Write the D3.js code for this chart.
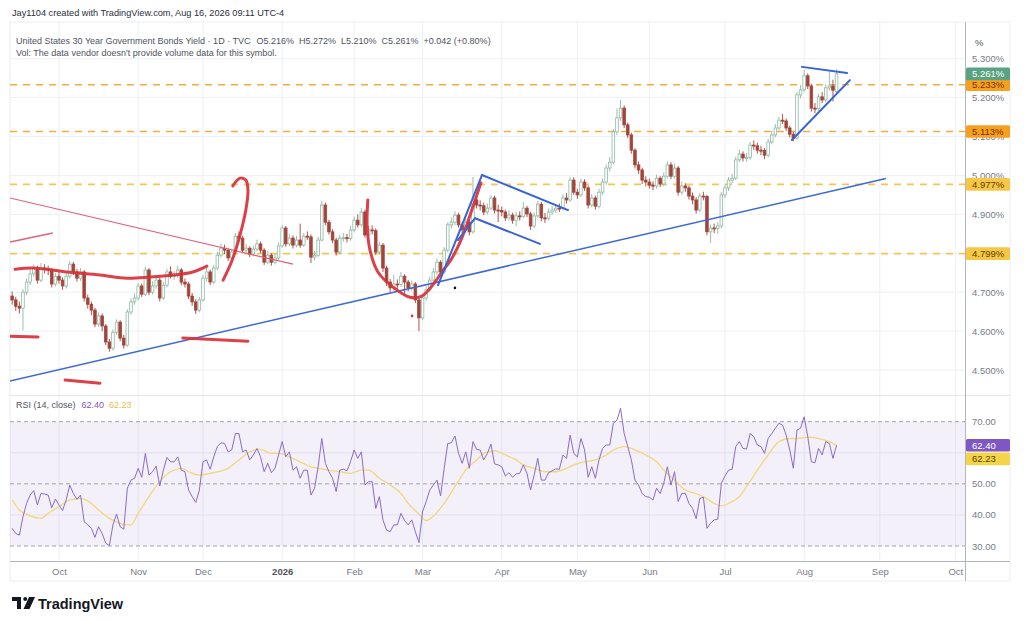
<!DOCTYPE html>
<html>
<head>
<meta charset="utf-8">
<script src="https://cdn.jsdelivr.net/npm/d3@7"></script>
<style>
  body { margin: 0; background: #fff; }
  svg text { font-family: "Liberation Sans", Arial, sans-serif; }
</style>
</head>
<body>
<div id="chartDiv"></div>
<script>
// trading calendar (weekdays minus bond market holidays)
const startDay = '2025-09-12';
const lastDay = '2026-10-09';
const holidays = ['2025-10-13', '2025-11-11', '2025-11-27', '2025-12-25', '2026-01-01', '2026-01-19',
  '2026-02-16', '2026-04-03', '2026-05-25', '2026-06-19', '2026-07-03', '2026-09-07'];

// daily candles, % yield
const opens = [
  4.690,4.680,4.664,4.659,4.700,4.726,4.747,4.762,4.731,4.762,
  4.760,4.757,4.721,4.741,4.731,4.716,4.741,4.772,4.752,4.736,
  4.752,4.685,4.669,4.654,4.618,4.639,4.613,4.572,4.556,4.597,
  4.623,4.582,4.564,4.649,4.675,4.685,4.716,4.695,4.757,4.700,
  4.716,4.731,4.685,4.718,4.752,4.741,4.743,4.757,4.726,4.721,
  4.690,4.675,4.654,4.680,4.736,4.752,4.726,4.762,4.795,4.813,
  4.808,4.788,4.803,4.844,4.839,4.808,4.813,4.798,4.811,4.824,
  4.808,4.777,4.795,4.777,4.788,4.819,4.865,4.824,4.839,4.821,
  4.834,4.821,4.844,4.842,4.790,4.795,4.834,4.924,4.880,4.855,
  4.834,4.803,4.839,4.840,4.838,4.860,4.885,4.873,4.906,4.847,
  4.860,4.858,4.803,4.821,4.762,4.726,4.711,4.721,4.720,4.741,
  4.726,4.711,4.721,4.680,4.634,4.685,4.706,4.731,4.752,4.777,
  4.752,4.808,4.873,4.880,4.898,4.873,4.860,4.880,4.855,4.937,
  4.924,4.922,4.906,4.916,4.942,4.911,4.910,4.906,4.891,4.898,
  4.885,4.896,4.895,4.916,4.901,4.870,4.896,4.926,4.891,4.890,
  4.906,4.911,4.916,4.915,4.942,4.937,4.988,4.957,4.950,4.983,
  4.968,4.924,4.942,4.921,4.957,4.983,5.019,5.034,5.112,5.148,
  5.173,5.130,5.104,5.065,5.027,5.014,4.988,4.983,4.975,4.973,
  4.993,4.978,4.998,5.027,4.998,5.019,4.957,4.973,4.968,4.947,
  4.937,4.911,4.947,4.946,4.855,4.865,4.864,4.870,4.950,4.968,
  4.988,4.993,5.040,5.055,5.045,5.046,5.078,5.076,5.065,5.064,
  5.052,5.086,5.104,5.122,5.142,5.140,5.122,5.106,5.096,5.207,
  5.220,5.256,5.230,5.173,5.172,5.202,5.194,5.225,5.230,5.216
];
const highs = [
  4.702,4.688,4.676,4.708,4.735,4.758,4.771,4.768,4.775,4.772,
  4.768,4.762,4.750,4.752,4.738,4.749,4.780,4.778,4.760,4.762,
  4.757,4.694,4.676,4.660,4.648,4.645,4.618,4.580,4.604,4.630,
  4.628,4.590,4.656,4.684,4.697,4.724,4.722,4.766,4.762,4.728,
  4.742,4.737,4.727,4.760,4.766,4.754,4.768,4.762,4.735,4.727,
  4.698,4.682,4.688,4.744,4.763,4.758,4.770,4.804,4.825,4.822,
  4.814,4.812,4.852,4.856,4.845,4.824,4.818,4.820,4.835,4.830,
  4.813,4.806,4.800,4.798,4.828,4.872,4.870,4.850,4.846,4.845,
  4.876,4.852,4.856,4.848,4.806,4.842,4.935,4.930,4.886,4.862,
  4.840,4.848,4.852,4.850,4.870,4.894,4.900,4.916,4.912,4.870,
  4.872,4.864,4.830,4.826,4.768,4.734,4.745,4.733,4.752,4.746,
  4.732,4.730,4.726,4.686,4.692,4.715,4.740,4.762,4.787,4.782,
  4.816,4.880,4.892,4.908,4.904,4.880,4.890,4.886,4.996,4.945,
  4.936,4.930,4.928,4.950,4.948,4.925,4.920,4.912,4.910,4.904,
  4.906,4.908,4.932,4.922,4.907,4.905,4.934,4.932,4.903,4.915,
  4.922,4.926,4.928,4.952,4.955,4.996,4.995,4.966,4.992,4.990,
  4.974,4.952,4.948,4.966,4.992,5.028,5.048,5.120,5.172,5.194,
  5.180,5.136,5.110,5.070,5.036,5.020,4.998,4.992,4.985,5.002,
  4.998,5.008,5.036,5.034,5.030,5.024,4.984,4.980,4.974,4.956,
  4.944,4.955,4.958,4.950,4.874,4.876,4.880,4.958,4.976,4.996,
  5.004,5.048,5.066,5.062,5.058,5.086,5.090,5.084,5.076,5.070,
  5.094,5.114,5.132,5.150,5.158,5.146,5.128,5.112,5.214,5.232,
  5.272,5.262,5.236,5.186,5.210,5.214,5.234,5.266,5.246,5.272
];
const lows = [
  4.668,4.652,4.645,4.602,4.692,4.718,4.740,4.722,4.726,4.748,
  4.744,4.712,4.714,4.722,4.706,4.709,4.735,4.744,4.727,4.729,
  4.676,4.658,4.641,4.610,4.611,4.600,4.564,4.547,4.550,4.590,
  4.574,4.555,4.560,4.642,4.668,4.679,4.688,4.690,4.692,4.694,
  4.709,4.676,4.680,4.712,4.735,4.732,4.737,4.718,4.712,4.682,
  4.665,4.644,4.648,4.676,4.728,4.718,4.720,4.756,4.789,4.798,
  4.780,4.781,4.798,4.830,4.800,4.801,4.790,4.792,4.805,4.800,
  4.770,4.772,4.768,4.771,4.783,4.814,4.817,4.818,4.812,4.815,
  4.814,4.816,4.834,4.775,4.782,4.790,4.830,4.872,4.848,4.826,
  4.794,4.798,4.830,4.828,4.832,4.854,4.866,4.868,4.840,4.840,
  4.848,4.796,4.797,4.752,4.716,4.700,4.704,4.708,4.714,4.690,
  4.702,4.704,4.672,4.600,4.628,4.678,4.700,4.725,4.746,4.744,
  4.748,4.802,4.864,4.872,4.866,4.848,4.852,4.846,4.850,4.915,
  4.910,4.898,4.900,4.910,4.902,4.880,4.895,4.883,4.884,4.876,
  4.870,4.884,4.890,4.893,4.860,4.864,4.890,4.882,4.878,4.884,
  4.899,4.904,4.906,4.910,4.928,4.932,4.950,4.940,4.944,4.960,
  4.915,4.918,4.912,4.915,4.950,4.976,5.010,5.028,5.104,5.140,
  5.122,5.096,5.056,5.018,5.004,4.978,4.972,4.966,4.962,4.966,
  4.970,4.972,4.992,4.990,4.992,4.948,4.950,4.958,4.938,4.926,
  4.902,4.905,4.936,4.846,4.826,4.852,4.850,4.864,4.942,4.960,
  4.980,4.988,5.034,5.036,5.036,5.040,5.066,5.056,5.052,5.042,
  5.046,5.080,5.098,5.116,5.132,5.114,5.098,5.088,5.092,5.198,
  5.214,5.222,5.164,5.160,5.166,5.186,5.188,5.218,5.190,5.210
];
const closes = [
  4.680,4.664,4.659,4.700,4.726,4.747,4.762,4.731,4.762,4.760,
  4.757,4.721,4.741,4.731,4.716,4.741,4.772,4.752,4.736,4.752,
  4.685,4.669,4.654,4.618,4.639,4.613,4.572,4.556,4.597,4.623,
  4.582,4.564,4.649,4.675,4.685,4.716,4.695,4.757,4.700,4.716,
  4.731,4.685,4.718,4.752,4.741,4.743,4.757,4.726,4.721,4.690,
  4.675,4.654,4.680,4.736,4.752,4.726,4.762,4.795,4.813,4.808,
  4.788,4.803,4.844,4.839,4.808,4.813,4.798,4.811,4.824,4.808,
  4.777,4.795,4.777,4.788,4.819,4.865,4.824,4.839,4.821,4.834,
  4.821,4.844,4.842,4.790,4.795,4.834,4.924,4.880,4.855,4.834,
  4.803,4.839,4.840,4.838,4.860,4.885,4.873,4.906,4.847,4.860,
  4.858,4.803,4.821,4.762,4.726,4.711,4.721,4.720,4.741,4.726,
  4.711,4.721,4.680,4.634,4.685,4.706,4.731,4.752,4.777,4.752,
  4.808,4.873,4.880,4.898,4.873,4.860,4.880,4.855,4.937,4.924,
  4.922,4.906,4.916,4.942,4.911,4.910,4.906,4.891,4.898,4.885,
  4.896,4.895,4.916,4.901,4.870,4.896,4.926,4.891,4.890,4.906,
  4.911,4.916,4.915,4.942,4.937,4.988,4.957,4.950,4.983,4.968,
  4.924,4.942,4.921,4.957,4.983,5.019,5.034,5.112,5.148,5.173,
  5.130,5.104,5.065,5.027,5.014,4.988,4.983,4.975,4.973,4.993,
  4.978,4.998,5.027,4.998,5.019,4.957,4.973,4.968,4.947,4.937,
  4.911,4.947,4.946,4.855,4.865,4.864,4.870,4.950,4.968,4.988,
  4.993,5.040,5.055,5.045,5.046,5.078,5.076,5.065,5.064,5.052,
  5.086,5.104,5.122,5.142,5.140,5.122,5.106,5.096,5.207,5.220,
  5.256,5.230,5.173,5.172,5.202,5.194,5.225,5.230,5.219,5.261
];

// RSI (14, close) and its moving average
const rsi = [
  35.7,34.0,33.5,39.4,43.7,46.4,47.8,43.2,46.9,46.7,
  46.4,42.3,45.1,43.2,41.4,44.8,49.6,46.9,45.0,46.4,
  37.8,36.8,35.7,32.8,36.2,34.0,30.9,30.1,36.8,40.3,
  36.2,35.4,48.6,51.2,51.8,55.0,52.1,59.8,52.8,53.9,
  55.7,49.3,54.4,58.5,57.1,57.1,58.7,54.4,53.9,48.0,
  45.9,44.0,48.0,57.1,57.7,54.7,58.7,62.0,63.2,63.0,
  60.3,60.9,66.2,66.2,60.3,60.9,57.7,59.3,61.4,58.7,
  53.9,56.6,53.6,55.0,59.3,63.6,58.7,60.3,54.4,55.5,
  51.8,54.4,54.4,46.4,48.6,55.5,64.6,56.6,53.9,51.8,
  47.5,54.4,54.7,54.2,57.1,60.9,58.2,60.3,49.6,50.7,
  50.7,42.1,45.9,38.4,35.1,34.6,36.8,36.8,40.5,38.2,
  36.8,38.4,34.6,31.1,41.0,44.3,48.0,49.6,51.2,46.1,
  55.0,63.0,63.2,65.4,59.8,56.6,60.3,55.0,63.6,61.1,
  60.9,57.7,59.8,62.8,56.4,56.1,55.5,52.5,53.6,52.1,
  53.2,53.4,56.1,53.4,48.0,52.8,58.2,51.2,51.2,53.6,
  54.2,54.8,54.7,59.3,58.2,65.7,59.8,58.7,64.6,60.9,
  52.1,55.5,51.8,57.7,61.4,62.5,62.5,69.5,70.5,74.3,
  66.2,62.0,57.7,51.2,49.6,46.9,45.9,45.7,44.8,48.6,
  46.9,50.2,55.5,49.6,53.9,44.3,46.9,46.9,43.7,42.1,
  38.8,45.3,45.7,35.7,37.3,38.4,38.6,50.2,52.5,54.4,
  54.7,62.0,63.6,61.4,61.2,66.2,65.2,62.5,62.0,59.8,
  64.6,66.2,67.9,69.5,68.9,65.7,60.9,55.0,67.3,67.9,
  71.6,65.2,57.1,56.8,61.4,59.3,63.6,63.0,58.2,62.4
];
const rsiMaIdx = [0,2,5,8,10,13,16,19,22,24,27,30,33,35,38,41,44,47,49,52,55,58,60,63,66,69,72,74,77,80,
  83,85,88,91,94,97,99,102,105,108,110,113,115,117,120,123,126,129,131,134,137,140,142,145,148,151,154,156,159,162,
  165,167,170,173,176,179,181,184,187,190,192,195,197,199,202,204,207,210,213,216,218,221,224,227,229];
const rsiMa = [44.8,41.6,39.7,38.9,40.5,42.7,44.8,45.3,43.7,41.6,38.9,37.3,36.8,40.5,45.9,50.7,53.9,55.0,53.9,52.8,
  53.4,54.1,55.0,57.7,60.3,61.1,59.8,59.8,58.7,57.1,55.5,55.0,54.4,53.9,53.4,54.4,54.4,51.8,49.6,46.9,
  43.7,40.3,38.2,39.6,43.7,49.1,54.4,57.7,59.8,60.7,59.3,57.7,56.1,55.0,53.9,53.9,55.0,56.1,57.1,57.7,
  59.3,60.9,62.0,60.9,59.3,57.1,54.4,51.2,48.0,46.9,45.9,43.7,42.9,43.7,45.9,49.1,54.4,59.3,63.6,64.6,
  64.6,65.0,64.6,63.6,62.23];

const priceGrid = [4.5, 4.6, 4.7, 4.8, 4.9, 5.0, 5.1, 5.2, 5.3];
const priceTicks = [4.5, 4.6, 4.7, 4.9, 5.0, 5.1, 5.2, 5.3];
const rsiTicks = [30, 40, 50, 70];
const rsiBands = [30, 50, 70];
const levels = [5.233, 5.113, 4.977, 4.799];

// hand drawn marks, [bar index, % yield]
const blueTrend = [[-0.6, 4.472], [242.7, 4.992]];
const redTrend = [[-0.6, 4.942], [78.0, 4.772]];
const redShort = [[-0.6, 4.829], [11.3, 4.852]];
const redNeck = [[0.8, 4.759], [5.8, 4.762], [15.2, 4.752], [24.4, 4.744], [31.9, 4.736], [38.3, 4.739],
  [44.7, 4.744], [50.2, 4.752], [54.1, 4.767]];
const redDashes = [[[-0.6, 4.587], [7.2, 4.585]], [[14.7, 4.474], [24.4, 4.466]], [[47.4, 4.582], [65.5, 4.574]]];
const redHook = [[58.6, 4.731], [61.1, 4.782], [63.3, 4.847], [64.9, 4.911], [65.5, 4.962], [64.9, 4.988],
  [63.3, 4.993], [61.3, 4.973]];
const redCup = [[98.8, 4.937], [98.6, 4.873], [99.4, 4.808], [101.6, 4.752], [105.8, 4.713], [110.5, 4.687],
  [113.8, 4.690], [116.6, 4.716], [119.4, 4.752], [122.2, 4.788], [124.9, 4.839], [127.2, 4.898],
  [129.1, 4.950], [130.2, 4.981]];
const flagLines = [[[118.3, 4.718], [130.5, 5.001]], [[130.5, 5.001], [154.4, 4.911]],
  [[128.6, 4.890], [146.6, 4.824]], [[123.8, 4.834], [128.6, 4.890]]];
const triangleLines = [[[219.4, 5.279], [231.9, 5.263]], [[216.6, 5.091], [232.7, 5.245]]];
const markDots = [[111.1, 4.639], [123.0, 4.711]];

class YieldChart {
  constructor() {
    this.width = 1024;
    this.height = 620;
    this.plot = { left: 10, right: 965, top: 22, priceBottom: 395, rsiTop: 396, bottom: 561, edge: 1010 };
    this.barStep = 3.6;

    this.upColor = '#8db8a3';
    this.downColor = '#a3443a';
    this.labelColor = '#787b86';

    let parse = d3.utcParse('%Y-%m-%d');
    let fmt = d3.utcFormat('%Y-%m-%d');
    this.days = d3.utcDays(parse(startDay), d3.utcDay.offset(parse(lastDay), 1))
      .filter(d => d.getUTCDay() !== 0 && d.getUTCDay() !== 6 && !holidays.includes(fmt(d)));
    this.monthTicks = this.days.map((d, i) => i)
      .filter(i => i > 0 && this.days[i].getUTCMonth() !== this.days[i - 1].getUTCMonth());

    let p = this.plot;
    this.x = d3.scaleLinear()
      .domain([-0.6, -0.6 + (p.right - p.left) / this.barStep])
      .range([p.left, p.right]);
    this.y = d3.scaleLinear().domain([4.5, 5.3]).range([370, 58.7]);
    this.yRsi = d3.scaleLinear().domain([30, 70]).range([546, 421.7]);
  }

  /**
   * Builds the whole picture.
   */
  createView() {
    this.svg = d3.select('#chartDiv').append('svg')
      .attr('width', this.width)
      .attr('height', this.height);

    let p = this.plot;
    let defs = this.svg.append('defs');
    defs.append('clipPath').attr('id', 'priceClip').append('rect')
      .attr('x', p.left).attr('y', p.top).attr('width', p.right - p.left).attr('height', p.priceBottom - p.top);
    defs.append('clipPath').attr('id', 'rsiClip').append('rect')
      .attr('x', p.left).attr('y', p.rsiTop).attr('width', p.right - p.left).attr('height', p.bottom - p.rsiTop);

    this.createGrid();
    this.createPricePane();
    this.createDrawings();
    this.createRsiPane();
    this.createAxes();
    this.createTexts();
  }

  /**
   * Frame, month grid and price grid.
   */
  createGrid() {
    let p = this.plot;
    let g = this.svg.append('g');

    g.append('rect')
      .attr('x', p.left).attr('y', p.top)
      .attr('width', p.edge - p.left).attr('height', p.bottom + 20 - p.top)
      .attr('fill', 'none').attr('stroke', '#eceef2');

    g.selectAll('.vgrid').data(this.monthTicks).enter().append('line')
      .attr('x1', d => this.x(d)).attr('x2', d => this.x(d))
      .attr('y1', p.top).attr('y2', p.bottom)
      .attr('stroke', '#eef0f4');

    g.selectAll('.hgrid').data(priceGrid).enter().append('line')
      .attr('x1', p.left).attr('x2', p.right)
      .attr('y1', d => this.y(d)).attr('y2', d => this.y(d))
      .attr('stroke', '#eef0f4');

    g.append('line')
      .attr('x1', p.left).attr('x2', p.edge)
      .attr('y1', p.priceBottom + 0.5).attr('y2', p.priceBottom + 0.5)
      .attr('stroke', '#e4e6eb');
  }

  /**
   * Candles and the horizontal levels.
   */
  createPricePane() {
    let p = this.plot;
    let g = this.svg.append('g').attr('clip-path', 'url(#priceClip)');

    g.selectAll('.level').data(levels).enter().append('line')
      .attr('x1', p.left).attr('x2', p.right)
      .attr('y1', d => this.y(d)).attr('y2', d => this.y(d))
      .attr('stroke', (d, i) => i < 2 ? '#f2ae3d' : '#f4c652')
      .attr('stroke-width', 1.6)
      .attr('stroke-dasharray', '7,6');

    let bars = closes.map((c, i) => ({
      i: i, o: opens[i], h: highs[i], l: lows[i], c: c,
      up: i === 0 ? c >= opens[i] : c >= closes[i - 1]
    }));
    let bodyW = 2.6;

    let candle = g.selectAll('.candle').data(bars).enter().append('g');

    candle.append('line')
      .attr('x1', d => this.x(d.i)).attr('x2', d => this.x(d.i))
      .attr('y1', d => this.y(d.h)).attr('y2', d => this.y(d.l))
      .attr('stroke', d => d.up ? this.upColor : this.downColor)
      .attr('stroke-width', 0.9);

    candle.append('rect')
      .attr('x', d => this.x(d.i) - bodyW / 2)
      .attr('width', bodyW)
      .attr('y', d => this.y(Math.max(d.o, d.c)))
      .attr('height', d => Math.max(1, this.y(Math.min(d.o, d.c)) - this.y(Math.max(d.o, d.c))))
      .attr('fill', d => d.c >= d.o ? '#ffffff' : (d.up ? '#5e9c7f' : this.downColor))
      .attr('stroke', d => d.up ? this.upColor : this.downColor)
      .attr('stroke-width', 0.8);
  }

  /**
   * Trend lines and marker strokes drawn on the chart.
   */
  createDrawings() {
    let g = this.svg.append('g').attr('clip-path', 'url(#priceClip)');
    let line = d3.line().x(d => this.x(d[0])).y(d => this.y(d[1]));
    let curve = d3.line().x(d => this.x(d[0])).y(d => this.y(d[1])).curve(d3.curveCatmullRom);

    g.append('path').attr('d', line(blueTrend))
      .attr('fill', 'none').attr('stroke', '#3d68d6').attr('stroke-width', 1.5);
    g.append('path').attr('d', line(redTrend))
      .attr('fill', 'none').attr('stroke', '#e0607a').attr('stroke-width', 1.2);
    g.append('path').attr('d', line(redShort))
      .attr('fill', 'none').attr('stroke', '#e0607a').attr('stroke-width', 1.4);

    let marker = [redNeck, redHook, redCup].concat(redDashes);
    g.selectAll('.marker').data(marker).enter().append('path')
      .attr('d', d => curve(d))
      .attr('fill', 'none')
      .attr('stroke', '#d9303a')
      .attr('stroke-opacity', 0.92)
      .attr('stroke-width', 3)
      .attr('stroke-linecap', 'round')
      .attr('stroke-linejoin', 'round');

    g.selectAll('.flag').data(flagLines.concat(triangleLines)).enter().append('path')
      .attr('d', d => line(d))
      .attr('fill', 'none')
      .attr('stroke', '#3a62d8')
      .attr('stroke-width', 2)
      .attr('stroke-linecap', 'round');

    g.selectAll('.dot').data(markDots).enter().append('circle')
      .attr('cx', d => this.x(d[0])).attr('cy', d => this.y(d[1]))
      .attr('r', 1.3)
      .attr('fill', (d, i) => i === 0 ? '#d9303a' : '#111');
  }

  /**
   * RSI line, its average and the 30/70 band.
   */
  createRsiPane() {
    let p = this.plot;
    let g = this.svg.append('g').attr('clip-path', 'url(#rsiClip)');

    g.append('rect')
      .attr('x', p.left).attr('width', p.right - p.left)
      .attr('y', this.yRsi(70)).attr('height', this.yRsi(30) - this.yRsi(70))
      .attr('fill', '#7e57c2').attr('fill-opacity', 0.09);

    g.selectAll('.rgrid').data([40, 60]).enter().append('line')
      .attr('x1', p.left).attr('x2', p.right)
      .attr('y1', d => this.yRsi(d)).attr('y2', d => this.yRsi(d))
      .attr('stroke', '#e3def0');

    g.selectAll('.band').data(rsiBands).enter().append('line')
      .attr('x1', p.left).attr('x2', p.right)
      .attr('y1', d => this.yRsi(d)).attr('y2', d => this.yRsi(d))
      .attr('stroke', '#a3a3ad').attr('stroke-width', 1)
      .attr('stroke-dasharray', '4,3');

    let maLine = d3.line()
      .x((d, i) => this.x(rsiMaIdx[i])).y(d => this.yRsi(d))
      .curve(d3.curveMonotoneX);
    g.append('path').attr('d', maLine(rsiMa))
      .attr('fill', 'none').attr('stroke', '#f3d77c').attr('stroke-width', 1.3);

    let rsiLine = d3.line().x((d, i) => this.x(i)).y(d => this.yRsi(d));
    g.append('path').attr('d', rsiLine(rsi))
      .attr('fill', 'none').attr('stroke', '#8a6cc6').attr('stroke-width', 1);
  }

  /**
   * Right price scales, bottom time scale and value tags.
   */
  createAxes() {
    let p = this.plot;

    let priceAxis = d3.axisRight(this.y)
      .tickValues(priceTicks).tickSize(0).tickPadding(7)
      .tickFormat(d => d.toFixed(3) + '%');
    let rsiAxis = d3.axisRight(this.yRsi)
      .tickValues(rsiTicks).tickSize(0).tickPadding(7)
      .tickFormat(d => d.toFixed(2));

    [priceAxis, rsiAxis].forEach(axis => {
      let a = this.svg.append('g')
        .attr('transform', `translate(${p.right},0)`)
        .call(axis);
      a.select('.domain').remove();
      a.selectAll('text')
        .attr('fill', this.labelColor)
        .style('font-size', '9.5px')
        .style('font-family', '"Liberation Sans", Arial, sans-serif');
    });

    let monthName = d3.utcFormat('%b');
    let timeAxis = d3.axisBottom(this.x)
      .tickValues(this.monthTicks.filter(i => this.x(i) < p.right))
      .tickSize(0).tickPadding(7)
      .tickFormat(i => this.days[i].getUTCMonth() === 0 ? this.days[i].getUTCFullYear() : monthName(this.days[i]));
    let t = this.svg.append('g')
      .attr('transform', `translate(0,${p.bottom})`)
      .call(timeAxis);
    t.select('.domain').remove();
    t.selectAll('text')
      .style('font-size', '9.5px')
      .style('font-family', '"Liberation Sans", Arial, sans-serif')
      .style('font-weight', i => this.days[i].getUTCMonth() === 0 ? 'bold' : 'normal')
      .attr('fill', i => this.days[i].getUTCMonth() === 0 ? '#50535e' : this.labelColor);

    this.svg.append('line')
      .attr('x1', p.right + 0.5).attr('x2', p.right + 0.5)
      .attr('y1', p.top).attr('y2', p.bottom + 20)
      .attr('stroke', '#b2b5be');
    this.svg.append('line')
      .attr('x1', p.left).attr('x2', p.edge)
      .attr('y1', p.bottom + 0.5).attr('y2', p.bottom + 0.5)
      .attr('stroke', '#b2b5be');

    let last = closes.length - 1;
    this.createTag(this.y, levels[0], '#f5a01e', '#7a3000', d => d.toFixed(3) + '%');
    this.createTag(this.y, levels[1], '#f5a01e', '#7a3000', d => d.toFixed(3) + '%');
    this.createTag(this.y, levels[2], '#f6c746', '#5c4300', d => d.toFixed(3) + '%');
    this.createTag(this.y, levels[3], '#f6c746', '#5c4300', d => d.toFixed(3) + '%');
    this.createTag(this.y, closes[last], '#5aa382', '#ffffff', d => d.toFixed(3) + '%');
    this.createTag(this.yRsi, rsi[last], '#7e57c2', '#ffffff', d => d.toFixed(2));
    this.createTag(this.yRsi, rsiMa[rsiMa.length - 1], '#f5d44c', '#4d4400', d => d.toFixed(2), 13);
  }

  /**
   * Coloured value box on the right scale.
   */
  createTag(scale, value, fill, color, format, shift = 0) {
    let p = this.plot;
    let yc = scale(value) + shift;
    let g = this.svg.append('g');
    g.append('rect')
      .attr('x', p.right + 1).attr('y', yc - 6.3)
      .attr('width', 44).attr('height', 12.6)
      .attr('rx', 1.5)
      .attr('fill', fill);
    g.append('text')
      .attr('x', p.right + 7).attr('y', yc)
      .attr('dy', '0.35em')
      .attr('fill', color)
      .style('font-size', '9.5px')
      .text(format(value));
  }

  /**
   * Header, legends and logo.
   */
  createTexts() {
    let last = closes.length - 1;
    let f3 = d3.format('.3f');
    let change = closes[last] - closes[last - 1];

    this.svg.append('text')
      .attr('x', 12).attr('y', 16)
      .attr('fill', '#2a2e39')
      .style('font-size', '9.2px')
      .text('Jay1104 created with TradingView.com, Aug 16, 2026 09:11 UTC-4');

    let legend = this.svg.append('text')
      .attr('x', 16).attr('y', 44)
      .attr('fill', '#50535e')
      .style('font-size', '9px');
    legend.append('tspan').text('United States 30 Year Government Bonds Yield · 1D · TVC');
    legend.append('tspan').attr('dx', 6)
      .text(`O${f3(opens[last])}%  H${f3(highs[last])}%  L${f3(lows[last])}%  C${f3(closes[last])}%  ` +
        `${change >= 0 ? '+' : ''}${f3(change)} (${change >= 0 ? '+' : ''}${(change / closes[last - 1] * 100).toFixed(2)}%)`)
      .style('white-space', 'pre');

    this.svg.append('text')
      .attr('x', 16).attr('y', 56)
      .attr('fill', '#50535e')
      .style('font-size', '9px')
      .text("Vol: The data vendor doesn't provide volume data for this symbol.");

    this.svg.append('text')
      .attr('x', 975).attr('y', 46)
      .attr('fill', '#50535e')
      .style('font-size', '9.5px')
      .text('%');

    let rsiLegend = this.svg.append('text')
      .attr('x', 16).attr('y', 408)
      .attr('fill', '#50535e')
      .style('font-size', '9px');
    rsiLegend.append('tspan').text('RSI (14, close)');
    rsiLegend.append('tspan').attr('dx', 6).attr('fill', '#7e57c2').text(rsi[last].toFixed(2));
    rsiLegend.append('tspan').attr('dx', 5).attr('fill', '#e3c24a').text(rsiMa[rsiMa.length - 1].toFixed(2));

    let logo = this.svg.append('g').attr('fill', '#131722');
    logo.append('rect').attr('x', 12).attr('y', 597).attr('width', 9).attr('height', 4);
    logo.append('rect').attr('x', 17).attr('y', 597).attr('width', 4).attr('height', 12);
    logo.append('circle').attr('cx', 25.2).attr('cy', 599).attr('r', 2);
    logo.append('path').attr('d', 'M29,597 L35,597 L29.5,609 L23.5,609 Z');
    this.svg.append('text')
      .attr('x', 38).attr('y', 609)
      .attr('fill', '#131722')
      .style('font-size', '14.5px')
      .style('font-weight', 'bold')
      .text('TradingView');
  }
}

let chart = new YieldChart();
chart.createView();
</script>
</body>
</html>
